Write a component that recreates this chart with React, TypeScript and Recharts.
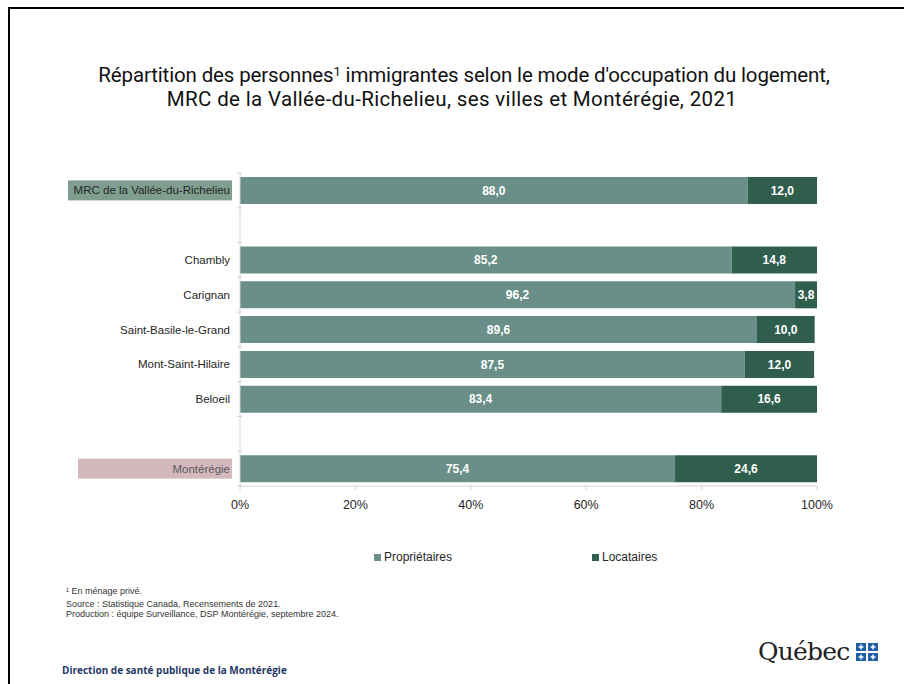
import * as React from 'react';
import { Bar, BarChart, LabelList, XAxis, YAxis } from 'recharts';

const categories = [
  'MRC de la Vallée-du-Richelieu',
  '',
  'Chambly',
  'Carignan',
  'Saint-Basile-le-Grand',
  'Mont-Saint-Hilaire',
  'Beloeil',
  ' ',
  'Montérégie',
];
const proprietaires = [88.0, null, 85.2, 96.2, 89.6, 87.5, 83.4, null, 75.4];
const locataires = [12.0, null, 14.8, 3.8, 10.0, 12.0, 16.6, null, 24.6];
const xTicks = [0, 20, 40, 60, 80, 100];

const data = categories.map((name, i) => ({
  name,
  proprietaires: proprietaires[i],
  locataires: locataires[i],
}));

const LIGHT = '#6a8f88';
const DARK = '#2f5e4d';
const AXIS = '#d4d4d4';
const FONT = '"Liberation Sans", Arial, sans-serif';

const highlight: Record<string, { fill: string; x0: number }> = {
  'MRC de la Vallée-du-Richelieu': { fill: '#7f9e8f', x0: 68 },
  Montérégie: { fill: '#d3b9bd', x0: 78 },
};

const fmt = (v: unknown) => (typeof v === 'number' ? v.toFixed(1).replace('.', ',') : '');

function CategoryTick(props: any) {
  const { x, y, payload, index } = props;
  const name: string = payload.value;
  const hl = highlight[name];
  const half = 34.8 / 2;
  return (
    <g>
      {index === 0 && <line x1={x + 5} x2={x + 10} y1={y - half} y2={y - half} stroke={AXIS} />}
      <line x1={x + 5} x2={x + 10} y1={y + half} y2={y + half} stroke={AXIS} />
      {hl && <rect x={hl.x0} y={y - 10} width={232 - hl.x0} height={20} fill={hl.fill} />}
      <text
        x={230}
        y={y}
        dy={4}
        textAnchor="end"
        fontSize={11.5}
        fontFamily={FONT}
        fill={name === 'Montérégie' ? '#5a5a5a' : '#262626'}
      >
        {name.trim()}
      </text>
    </g>
  );
}

function QuebecFlag() {
  const cell = (x: number, y: number) => (
    <g key={`${x}-${y}`}>
      <rect x={x} y={y} width={10} height={8} fill="#1f5fa8" />
      <rect x={x + 4.3} y={y + 1.5} width={1.4} height={5} fill="#fff" />
      <rect x={x + 2.5} y={y + 3.3} width={5} height={1.4} fill="#fff" />
    </g>
  );
  return (
    <svg width={22} height={18} style={{ position: 'absolute', left: 856, top: 643 }}>
      {cell(0, 0)}
      {cell(12, 0)}
      {cell(0, 10)}
      {cell(12, 10)}
    </svg>
  );
}

export default function App() {
  return (
    <div
      style={{
        position: 'fixed',
        left: 0,
        top: 0,
        width: 904,
        height: 684,
        overflow: 'hidden',
        background: '#fff',
        fontFamily: FONT,
      }}
    >
      <div
        style={{
          position: 'absolute',
          left: 8,
          top: 7,
          width: 1000,
          height: 1000,
          border: '2px solid #000',
        }}
      />
      <div
        style={{
          position: 'absolute',
          left: 0,
          width: 904,
          top: 63,
          textAlign: 'center',
          fontFamily: 'Roboto, sans-serif',
          fontSize: 20.5,
          lineHeight: '24px',
          color: '#111',
        }}
      >
        <div style={{ paddingLeft: 24, letterSpacing: -0.15 }}>
          Répartition des personnes<sup style={{ fontSize: 13, verticalAlign: 6, lineHeight: 0 }}>1</sup> immigrantes
          selon le mode d'occupation du logement,
        </div>
        <div style={{ letterSpacing: 0.35 }}>MRC de la Vallée-du-Richelieu, ses villes et Montérégie, 2021</div>
      </div>

      <div style={{ position: 'absolute', left: 0, top: 0 }}>
        <BarChart
          width={904}
          height={540}
          data={data}
          layout="vertical"
          margin={{ top: 173, right: 87, bottom: 24, left: 0 }}
          barSize={27}
        >
          <XAxis
            type="number"
            domain={[0, 100]}
            ticks={xTicks}
            tickFormatter={(v: number) => `${v}%`}
            stroke={AXIS}
            tickSize={4}
            tickMargin={10}
            height={30}
            tick={{ fill: '#262626', fontSize: 12.5, fontFamily: FONT }}
            interval={0}
          />
          <YAxis
            type="category"
            dataKey="name"
            width={240}
            stroke={AXIS}
            tickLine={false}
            tick={<CategoryTick />}
            interval={0}
          />
          <Bar dataKey="proprietaires" stackId="a" fill={LIGHT} isAnimationActive={false}>
            <LabelList
              dataKey="proprietaires"
              position="center"
              formatter={fmt}
              fill="#fff"
              fontSize={12}
              fontWeight="bold"
              fontFamily={FONT}
            />
          </Bar>
          <Bar dataKey="locataires" stackId="a" fill={DARK} isAnimationActive={false}>
            <LabelList
              dataKey="locataires"
              position="center"
              formatter={fmt}
              fill="#fff"
              fontSize={12}
              fontWeight="bold"
              fontFamily={FONT}
            />
          </Bar>
        </BarChart>
      </div>

      <div
        style={{
          position: 'absolute',
          top: 550,
          left: 374,
          fontSize: 12,
          color: '#262626',
          display: 'flex',
          gap: 0,
        }}
      >
        <span style={{ display: 'inline-flex', alignItems: 'center', width: 218 }}>
          <span style={{ width: 7, height: 7, background: LIGHT, marginRight: 3 }} />
          Propriétaires
        </span>
        <span style={{ display: 'inline-flex', alignItems: 'center' }}>
          <span style={{ width: 7, height: 7, background: DARK, marginRight: 3 }} />
          Locataires
        </span>
      </div>

      <div
        style={{
          position: 'absolute',
          left: 66,
          top: 586,
          fontSize: 9,
          lineHeight: '10px',
          color: '#333',
        }}
      >
        <div style={{ marginBottom: 3 }}>¹ En ménage privé.</div>
        <div>Source : Statistique Canada, Recensements de 2021.</div>
        <div>Production : équipe Surveillance, DSP Montérégie, septembre 2024.</div>
      </div>

      <div
        style={{
          position: 'absolute',
          left: 62,
          top: 663,
          fontSize: 10,
          fontWeight: 'bold',
          color: '#1f3864',
          fontFamily: '"Open Sans", sans-serif',
        }}
      >
        Direction de santé publique de la Montérégie
      </div>

      <div
        style={{
          position: 'absolute',
          left: 758,
          top: 637,
          fontSize: 25,
          fontFamily: '"DejaVu Serif", serif',
          color: '#222',
          letterSpacing: -0.8,
        }}
      >
        Québec
      </div>
      <QuebecFlag />
    </div>
  );
}
